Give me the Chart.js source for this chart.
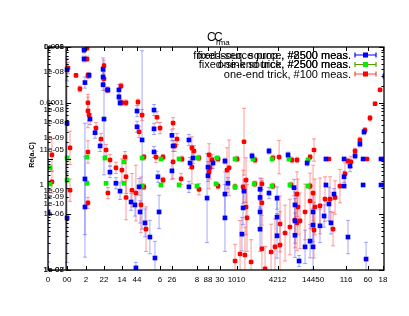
<!DOCTYPE html>
<html>
<head>
<meta charset="utf-8">
<script src="https://cdn.jsdelivr.net/npm/chart.js@4.4.1/dist/chart.umd.min.js"></script>
<style>
  html, body { margin: 0; padding: 0; background: #fff; }
  #wrap { width: 409px; height: 316px; }
</style>
</head>
<body>
<div id="wrap"><canvas id="chart"></canvas></div>
<script>
// --- tick labels (overlapping labels as in the reference) ---
const xTickVals   = [0, 1.02, 2.04, 3.0, 3.96, 4.77, 6.0, 6.64, 7.98, 8.57, 9.2, 10.1, 12.3, 14.2, 15.97, 17.14, 17.95];
const xTickLabels = ['0', '00', '2', '22', '14', '44', '6', '26', '8', '88', '30', '1010', '4212', '14450', '116', '60', '18'];

const yTickVals   = [1e-3, 1e-3, 3.56e-4, 1e-4, 7.4e-5, 4.5e-5, 2.33e-5, 1.42e-5, 2.61e-6, 2.04e-6, 1.53e-6, 1e-6, 1e-7, 1e-7];
const yTickLabels = ['0.001', '1e-08', '1e-08', '0.0001', '1e-08', '1e-08', '1e-09', '1e-05', '1e-09', '1e-09', '1e-10', '1e-06', '1e-07', '1e-08'];
const yTick2Vals   = [1.42e-5, 3.35e-6];
const yTick2Labels = ['1', '1'];

// --- fixed-source, #2500 meas. (blue) ---
const blueX = [0.0, 1.02, 1.02, 1.02, 1.93, 1.93, 1.98, 2.2, 2.25, 2.52, 2.79, 1.98, 1.98, 2.95, 2.95, 2.95, 3.21, 3.0, 3.32, 3.64,
  3.8, 3.8, 3.86, 3.86, 4.45, 4.66, 4.77, 4.77, 4.88, 4.93, 5.04, 5.2, 5.46, 5.73, 4.71, 5.68, 5.68, 5.68, 5.89, 5.95,
  6.64, 6.7, 6.64, 7.55, 7.61, 7.77, 7.55, 8.57, 8.57, 8.52, 8.84, 9.48, 9.64, 9.48, 9.48, 10.45, 10.39, 10.5, 10.93, 11.36,
  11.36, 11.36, 11.36, 11.84, 11.84, 12.27, 12.27, 12.27, 12.86, 13.18, 13.23, 13.23, 13.23, 13.45, 13.88, 13.77, 14.04, 14.2, 14.2, 14.2,
  14.57, 14.79, 15.05, 15.16, 15.32, 14.89, 14.89, 15.86, 15.86, 15.86, 16.18, 16.45, 16.71, 16.93, 16.88, 16.88, 17.84, 17.84, 16.07, 17.04, 18.05];
const blueY = [1.1e-6, 3.9e-4, 4.3e-5, 8.6e-7, 8.8e-4, 6.1e-4, 2.3e-4, 3.1e-4, 5.1e-5, 2.9e-5, 1.68e-5, 4.3e-6, 1.35e-6, 4.0e-4, 2.9e-4, 2.1e-4, 1.7e-4, 5.1e-5, 5.7e-6, 3.6e-6,
  1.7e-4, 1.27e-4, 1.0e-4, 2.6e-6, 1.66e-6, 1.47e-6, 7.1e-5, 3.7e-5, 3.1e-6, 1.1e-6, 2.15e-5, 7.0e-7, 3.9e-7, 1.64e-7, 1.09e-7, 7.4e-5, 3.4e-5, 1.31e-5, 4.7e-6, 1.1e-6,
  2.6e-5, 1.68e-5, 6.0e-6, 2.15e-5, 8.3e-6, 1.02e-5, 3.1e-6, 7.0e-6, 4.9e-6, 1.95e-6, 8.3e-6, 9.0e-6, 3.6e-6, 2.3e-6, 8.6e-7, 1.3e-6, 4.4e-7, 2.6e-6, 1.11e-5, 2.8e-6,
  2.0e-6, 1.1e-6, 5.4e-7, 1.36e-5, 2.4e-6, 1.95e-6, 8.9e-7, 4.1e-7, 1.16e-5, 3.0e-6, 1.47e-6, 7.6e-7, 4.2e-7, 1.45e-7, 8.3e-6, 2.6e-7, 3.3e-7, 2.6e-7, 6.4e-7, 1.1e-6,
  6.2e-7, 9.3e-7, 1.53e-6, 7.0e-7, 2.3e-6, 9.8e-6, 3.35e-6, 9.8e-6, 3.2e-6, 4.7e-6, 7.3e-6, 1.11e-5, 1.82e-5, 3.0e-5, 9.8e-6, 3.35e-6, 9.8e-6, 3.35e-6, 3.9e-7, 1.57e-7, 3.0e-4];
const blueErr = [0.9, 0.2, 1.0, 0.8, 0.05, 0.05, 0.1, 0.05, 0.1, 0.1, 0.1, 1.0, 0.9, 0.2, 0.1, 0.1, 0.05, 1.0, 0.1, 0.1,
  0.1, 0.05, 0.05, 0.15, 0.15, 0.2, 0.1, 0.1, 0.15, 0.2, 1.6, 0.25, 0.3, 0.3, 0.1, 0.1, 0.1, 0.1, 0.1, 0.3,
  0.1, 0.1, 0.15, 0.1, 0.1, 0.1, 0.1, 0.1, 0.1, 0.8, 0.1, 0.05, 0.1, 0.4, 0.6, 0.3, 0.3, 0.2, 0.05, 0.2,
  0.2, 0.3, 0.4, 0.05, 0.1, 0.2, 0.3, 0.4, 0.05, 0.15, 0.3, 0.4, 0.4, 0.1, 0.05, 0.3, 0.3, 0.4, 0.3, 0.3,
  0.3, 0.2, 0.3, 0.2, 0.1, 0.02, 0.02, 0.02, 0.02, 0.1, 0.1, 0.05, 0.05, 0.05, 0.02, 0.02, 0.02, 0.02, 0.3, 0.3, 0.05];

// --- fixed-sink, #2500 meas. (green) ---
const greenX = [0.11, 0.11, 1.02, 1.02, 2.09, 2.09, 3.05, 3.11, 4.07, 4.07, 5.04, 5.04, 6.05, 6.05, 7.02, 7.02,
  8.04, 7.98, 9.05, 9.0, 10.02, 10.02, 10.98, 11.04, 12.0, 12.0, 12.91, 12.96, 13.93, 13.93];
const greenY = [6.8e-6, 3.5e-6, 1.02e-5, 4.1e-6, 1.06e-5, 3.6e-6, 1.02e-5, 3.6e-6, 8.7e-6, 3.6e-6, 1.02e-5, 3.2e-6, 9.8e-6, 3.35e-6, 9.8e-6, 3.35e-6,
  1.02e-5, 3.2e-6, 1.02e-5, 3.5e-6, 9.8e-6, 3.1e-6, 9.8e-6, 3.5e-6, 9.8e-6, 3.2e-6, 9.8e-6, 3.35e-6, 9.4e-6, 3.2e-6];

// --- one-end trick, #100 meas. (red) ---
const redX = [0.21, 0.21, 1.07, 1.18, 1.18, 1.5, 1.71, 2.09, 2.09, 2.14, 2.14, 2.14, 2.2, 2.57, 2.84, 2.14, 2.14, 3.0, 3.0, 3.16,
  3.11, 3.32, 3.21, 3.64, 3.91, 3.96, 4.18, 4.13, 3.96, 4.18, 4.18, 4.5, 4.71, 4.82, 4.88, 5.04, 5.14, 5.14, 4.98, 5.25,
  5.84, 6.0, 5.79, 6.16, 6.16, 6.7, 6.91, 6.8, 6.7, 7.18, 7.13, 7.71, 7.82, 7.71, 8.09, 8.09, 8.63, 8.79, 8.68, 8.63,
  9.11, 9.11, 9.59, 9.7, 10.13, 10.02, 10.02, 10.29, 10.55, 10.88, 10.5, 10.61, 10.45, 10.61, 10.66, 11.09, 11.09, 11.46, 11.46, 11.46,
  11.63, 12.05, 12.05, 11.95, 12.16, 12.38, 12.43, 12.43, 12.7, 13.07, 13.34, 13.02, 13.34, 13.39, 13.23, 13.34, 13.5, 12.96, 14.04, 14.25,
  14.04, 13.77, 14.04, 14.2, 14.3, 14.25, 14.57, 14.84, 15.11, 15.27, 15.38, 15.64, 15.05, 16.07, 15.91, 16.23, 16.45, 16.71, 16.98, 17.09,
  17.25, 17.52, 17.79, 18.0, 18.0];
const redY = [1.16e-5, 3.8e-6, 4.2e-4, 1.55e-5, 2.7e-6, 3.1e-4, 1.77e-4, 9.6e-4, 6.1e-4, 3.1e-4, 1.0e-4, 7.1e-5, 6.0e-5, 3.5e-5, 2.24e-5, 1.31e-5, 1.6e-6, 4.6e-4, 2.7e-4, 1.7e-4,
  1.42e-5, 9.4e-6, 2.4e-6, 6.8e-6, 2.0e-4, 1.0e-4, 1.0e-4, 1.06e-5, 6.2e-6, 4.7e-6, 2.0e-6, 2.7e-6, 2.4e-6, 1.03e-4, 3.0e-5, 6.0e-5, 1.06e-5, 3.1e-6, 1.47e-6, 5.4e-7,
  5.5e-5, 3.5e-5, 1.06e-5, 1.06e-5, 4.1e-6, 4.3e-5, 2.24e-5, 1.68e-5, 8.7e-6, 9.8e-6, 4.3e-6, 1.55e-5, 1.36e-5, 7.0e-6, 1.02e-5, 2.8e-6, 1.16e-5, 9.4e-6, 6.8e-6, 5.7e-6,
  9.8e-6, 3.2e-6, 6.2e-6, 6.8e-6, 9.8e-6, 3.1e-6, 1.45e-7, 1.94e-7, 1.86e-7, 1.39e-7, 2.0e-5, 4.1e-6, 3.1e-6, 1.35e-6, 8.6e-7, 9.4e-6, 3.5e-6, 3.5e-6, 1.6e-6, 2.4e-7,
  1.05e-7, 1.02e-5, 3.2e-6, 2.1e-7, 2.6e-7, 1.06e-5, 6.7e-7, 2.8e-7, 4.6e-7, 9.4e-6, 9.4e-6, 3.35e-6, 2.3e-6, 1.35e-6, 7.9e-7, 7.0e-7, 7.6e-7, 5.9e-7, 1.06e-5, 1.42e-5,
  3.2e-6, 1.1e-6, 1.73e-6, 2.4e-6, 1.35e-6, 5.2e-7, 1.41e-6, 1.87e-6, 1.87e-6, 5.4e-7, 2.0e-6, 3.2e-6, 9.8e-6, 9.0e-6, 5.3e-6, 8.7e-6, 1.36e-5, 2.15e-5, 3.2e-5, 9.8e-6,
  5.3e-5, 9.6e-5, 1.7e-4, 9.8e-6, 3.35e-6];
const redErr = [0.3, 0.2, 0.1, 0.3, 0.2, 0.03, 0.05, 0.05, 0.05, 0.05, 0.1, 0.3, 0.1, 0.1, 0.1, 0.2, 0.1, 0.1, 0.1, 0.05,
  0.1, 0.1, 0.1, 0.1, 0.05, 0.05, 0.05, 0.1, 0.2, 0.3, 0.4, 0.3, 0.5, 0.05, 0.1, 0.1, 0.05, 0.05, 0.5, 0.4,
  0.1, 0.1, 0.1, 0.05, 0.05, 0.1, 0.1, 0.1, 0.3, 0.05, 0.1, 0.2, 0.1, 0.3, 0.05, 0.1, 0.2, 0.1, 0.2, 0.3,
  0.05, 0.05, 0.4, 0.5, 0.05, 0.05, 0.3, 0.6, 0.5, 0.4, 0.6, 0.4, 0.3, 0.5, 0.6, 0.05, 0.05, 0.1, 0.4, 0.6,
  0.4, 0.05, 0.05, 0.5, 0.5, 0.3, 0.5, 0.6, 0.5, 0.05, 0.05, 0.05, 0.4, 0.5, 0.5, 0.5, 0.5, 0.5, 0.05, 0.2,
  0.05, 0.5, 0.5, 0.5, 0.5, 0.5, 0.5, 0.4, 0.4, 0.3, 0.3, 0.3, 0.02, 0.05, 0.2, 0.1, 0.05, 0.05, 0.05, 0.02,
  0.05, 0.03, 0.02, 0.02, 0.02];

const legendRows = [
  { texts: ['fixed-source prop., #2500 meas.', 'fixed-seq. source, #8500 meas.'], color: '#0000ff', errColor: '#0000ff' },
  { texts: ['fixed-sink source, #2500 meas.', 'one-end trick, #2500 meas.'], color: '#00ee00', errColor: '#5a9a00' },
  { texts: ['one-end trick, #100 meas.'], color: '#ff0000', errColor: '#ff4040' }
];

const toPoints = (xs, ys) => xs.map((x, i) => ({ x: x, y: ys[i] }));

const FONT = '"Liberation Sans", Arial, sans-serif';

// draws error bars through the scales
const errorBars = {
  id: 'errorBars',
  beforeDatasetsDraw(chart) {
    const { ctx, chartArea, scales: { x, y } } = chart;
    ctx.save();
    ctx.beginPath();
    ctx.rect(chartArea.left, chartArea.top, chartArea.width, chartArea.height);
    ctx.clip();
    chart.data.datasets.forEach(ds => {
      if (!ds.err) return;
      ctx.strokeStyle = ds.errColor;
      ctx.lineWidth = 1;
      ds.data.forEach((p, i) => {
        const f = Math.pow(10, ds.err[i]);
        const px = x.getPixelForValue(p.x);
        const top = y.getPixelForValue(p.y * f);
        const bot = y.getPixelForValue(p.y / f);
        ctx.beginPath();
        ctx.moveTo(px, top); ctx.lineTo(px, bot);
        ctx.moveTo(px - 2, top); ctx.lineTo(px + 2, top);
        ctx.moveTo(px - 2, bot); ctx.lineTo(px + 2, bot);
        ctx.stroke();
      });
    });
    ctx.restore();
  }
};

// frame, inward ticks, y labels, title, legend (gnuplot look)
const decor = {
  id: 'decor',
  afterDraw(chart) {
    const { ctx, chartArea: a, scales: { x, y } } = chart;
    ctx.save();
    ctx.strokeStyle = '#000';
    ctx.lineWidth = 1;

    // ticks
    ctx.beginPath();
    xTickVals.forEach(v => {
      const px = Math.round(x.getPixelForValue(v)) + 0.5;
      ctx.moveTo(px, a.bottom); ctx.lineTo(px, a.bottom - 4);
      ctx.moveTo(px, a.top); ctx.lineTo(px, a.top + 4);
    });
    for (let e = -7; e <= -3; e++) {
      for (let m = 1; m <= 9; m++) {
        const v = m * Math.pow(10, e);
        if (v > 1e-3 * 1.0001) break;
        const py = Math.round(y.getPixelForValue(v)) + 0.5;
        const len = m === 1 ? 5 : 2.5;
        ctx.moveTo(a.left, py); ctx.lineTo(a.left + len, py);
        ctx.moveTo(x.getPixelForValue(0.97), py); ctx.lineTo(x.getPixelForValue(0.97) + len, py);
        ctx.moveTo(a.right, py); ctx.lineTo(a.right - len, py);
      }
    }
    ctx.stroke();

    // frame + inner overlay frame line
    ctx.lineWidth = 1.3;
    ctx.strokeRect(a.left, a.top, a.right - a.left, a.bottom - a.top);
    ctx.beginPath();
    const ix = x.getPixelForValue(0.97);
    ctx.moveTo(ix, a.top); ctx.lineTo(ix, a.bottom);
    ctx.stroke();

    // y tick labels
    ctx.fillStyle = '#000';
    ctx.font = '8px ' + FONT;
    ctx.textAlign = 'right';
    ctx.textBaseline = 'middle';
    yTickVals.forEach((v, i) => ctx.fillText(yTickLabels[i], 64, y.getPixelForValue(v)));
    yTick2Vals.forEach((v, i) => ctx.fillText(yTick2Labels[i], 44, y.getPixelForValue(v)));

    // y axis title
    ctx.save();
    ctx.translate(32, 155);
    ctx.rotate(-Math.PI / 2);
    ctx.textAlign = 'center';
    ctx.font = 'bold 7px ' + FONT;
    ctx.fillText('Re(a\u2081C)', 0, 0);
    ctx.restore();

    // title
    ctx.textAlign = 'left';
    ctx.textBaseline = 'alphabetic';
    ctx.font = '12px ' + FONT;
    ctx.fillText('C', 207, 41);
    ctx.fillText('C', 214, 41);
    ctx.font = '8px ' + FONT;
    ctx.fillText('rma', 216, 45);

    // legend
    ctx.font = '11px ' + FONT;
    legendRows.forEach((r, i) => {
      const ly = 55 + i * 9.5;
      ctx.textAlign = 'right';
      ctx.textBaseline = 'middle';
      ctx.fillStyle = '#000';
      r.texts.forEach(t => ctx.fillText(t, 351, ly + 0.5));
      ctx.strokeStyle = r.errColor;
      ctx.lineWidth = 1.2;
      ctx.beginPath();
      ctx.moveTo(355, ly); ctx.lineTo(376, ly);
      ctx.moveTo(355, ly - 2.5); ctx.lineTo(355, ly + 2.5);
      ctx.moveTo(376, ly - 2.5); ctx.lineTo(376, ly + 2.5);
      ctx.stroke();
      ctx.fillStyle = r.color;
      ctx.fillRect(363, ly - 2.5, 5, 5);
    });
    ctx.restore();
  }
};

new Chart(document.getElementById('chart'), {
  type: 'scatter',
  data: {
    datasets: [
      {
        label: 'fixed-source, #2500 meas.',
        data: toPoints(blueX, blueY),
        err: blueErr,
        errColor: 'rgba(60, 60, 255, 0.45)',
        pointStyle: 'rect',
        pointRadius: 3.3,
        backgroundColor: '#0000ff',
        borderColor: '#0000ff',
        borderWidth: 0
      },
      {
        label: 'fixed-sink, #2500 meas.',
        data: toPoints(greenX, greenY),
        err: greenX.map(() => 0.03),
        errColor: 'rgba(90, 160, 0, 0.6)',
        pointStyle: 'rect',
        pointRadius: 3.3,
        backgroundColor: '#00ee00',
        borderColor: '#00ee00',
        borderWidth: 0
      },
      {
        label: 'one-end trick, #100 meas.',
        data: toPoints(redX, redY),
        err: redErr,
        errColor: 'rgba(255, 60, 60, 0.5)',
        pointStyle: 'rectRounded',
        pointRadius: 2.7,
        backgroundColor: '#ff0000',
        borderColor: '#ff0000',
        borderWidth: 0
      }
    ]
  },
  options: {
    responsive: true,
    maintainAspectRatio: false,
    animation: false,
    layout: { padding: { left: 48, right: 25, top: 47, bottom: 0 } },
    plugins: {
      legend: { display: false },
      tooltip: { enabled: false }
    },
    scales: {
      x: {
        type: 'linear',
        min: 0,
        max: 18,
        grid: { display: false, drawTicks: false },
        border: { display: false },
        afterBuildTicks: s => { s.ticks = xTickVals.map(v => ({ value: v })); },
        afterFit: s => { s.height = 46; },
        ticks: {
          autoSkip: false,
          maxRotation: 0,
          padding: 5,
          color: '#000',
          font: { size: 8, family: FONT },
          callback: (v, i) => xTickLabels[i]
        }
      },
      y: {
        type: 'logarithmic',
        min: 1e-7,
        max: 1e-3,
        grid: { display: false },
        border: { display: false },
        ticks: { display: false },
        afterFit: s => { s.width = 0; }
      }
    }
  },
  plugins: [errorBars, decor]
});
</script>
</body>
</html>
